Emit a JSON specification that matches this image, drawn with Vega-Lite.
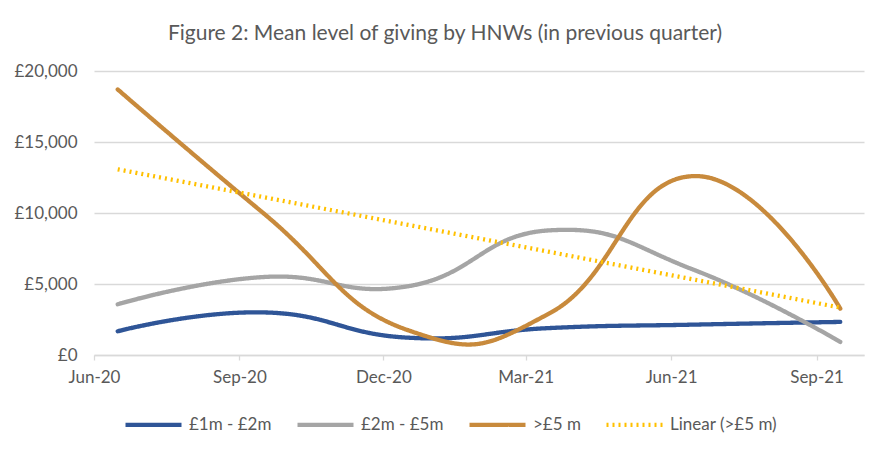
{
  "$schema": "https://vega.github.io/schema/vega-lite/v6.json",
  "width": 770,
  "height": 284,
  "autosize": {"type": "none"},
  "padding": {"left": 94, "top": 71, "right": 25, "bottom": 97},
  "background": "#ffffff",
  "config": {"view": {"stroke": null}, "font": "Lato"},
  "title": {
    "text": "Figure 2: Mean level of giving by HNWs (in previous quarter)",
    "font": "Lato",
    "fontSize": 21,
    "fontWeight": "normal",
    "color": "#595959",
    "anchor": "middle",
    "frame": "group",
    "dx": -34,
    "offset": 18
  },
  "data": {
    "values": [
      {"month": "2020-06-01", "series": "£1m - £2m", "value": 1670},
      {"month": "2020-09-01", "series": "£1m - £2m", "value": 3000},
      {"month": "2020-12-01", "series": "£1m - £2m", "value": 1220},
      {"month": "2021-03-01", "series": "£1m - £2m", "value": 1900},
      {"month": "2021-06-01", "series": "£1m - £2m", "value": 2140},
      {"month": "2021-09-01", "series": "£1m - £2m", "value": 2330},
      {"month": "2020-06-01", "series": "£2m - £5m", "value": 3570},
      {"month": "2020-09-01", "series": "£2m - £5m", "value": 5490},
      {"month": "2020-12-01", "series": "£2m - £5m", "value": 4840},
      {"month": "2021-03-01", "series": "£2m - £5m", "value": 8780},
      {"month": "2021-06-01", "series": "£2m - £5m", "value": 5970},
      {"month": "2021-09-01", "series": "£2m - £5m", "value": 920},
      {"month": "2020-06-01", "series": ">£5 m", "value": 18700},
      {"month": "2020-09-01", "series": ">£5 m", "value": 10000},
      {"month": "2020-12-01", "series": ">£5 m", "value": 1750},
      {"month": "2021-03-01", "series": ">£5 m", "value": 2960},
      {"month": "2021-06-01", "series": ">£5 m", "value": 12600},
      {"month": "2021-09-01", "series": ">£5 m", "value": 3270},
      {"month": "2020-06-01", "series": "Linear (>£5 m)", "value": 13080},
      {"month": "2021-09-01", "series": "Linear (>£5 m)", "value": 3340}
    ]
  },
  "encoding": {
    "x": {
      "field": "month",
      "type": "temporal",
      "timeUnit": "utcyearmonth",
      "bandPosition": 0.5,
      "scale": {
        "nice": false,
        "domain": [
          {"year": 2020, "month": 6, "date": 1, "utc": true},
          {"year": 2021, "month": 10, "date": 1, "utc": true}
        ]
      },
      "axis": {
        "values": [
          {"year": 2020, "month": 6, "date": 1, "utc": true},
          {"year": 2020, "month": 9, "date": 1, "utc": true},
          {"year": 2020, "month": 12, "date": 1, "utc": true},
          {"year": 2021, "month": 3, "date": 1, "utc": true},
          {"year": 2021, "month": 6, "date": 1, "utc": true},
          {"year": 2021, "month": 9, "date": 1, "utc": true}
        ],
        "format": "%b-%y",
        "title": null,
        "grid": false,
        "domainColor": "#D9D9D9",
        "domainWidth": 1.3,
        "tickColor": "#D9D9D9",
        "tickWidth": 1.3,
        "tickSize": 5,
        "labelFont": "Lato",
        "labelFontSize": 17,
        "labelColor": "#595959",
        "labelPadding": 9,
        "labelFlush": false
      }
    },
    "y": {
      "field": "value",
      "type": "quantitative",
      "scale": {"domain": [0, 20000], "nice": false},
      "axis": {
        "values": [0, 5000, 10000, 15000, 20000],
        "labelExpr": "'£' + format(datum.value, ',')",
        "title": null,
        "domain": false,
        "ticks": false,
        "gridColor": "#D9D9D9",
        "gridWidth": 1.3,
        "labelFont": "Lato",
        "labelFontSize": 17,
        "labelColor": "#595959",
        "labelPadding": 17
      }
    },
    "color": {
      "field": "series",
      "type": "nominal",
      "scale": {
        "domain": ["£1m - £2m", "£2m - £5m", ">£5 m", "Linear (>£5 m)"],
        "range": ["#2F5597", "#A5A5A5", "#C88A3C", "#FFC000"]
      },
      "legend": {
        "orient": "none",
        "legendX": 29,
        "legendY": 323,
        "direction": "horizontal",
        "title": null,
        "symbolType": "stroke",
        "symbolSize": 3136,
        "labelFont": "Lato",
        "labelFontSize": 17,
        "labelColor": "#595959",
        "labelOffset": 5,
        "columnPadding": 16
      }
    },
    "strokeDash": {
      "field": "series",
      "type": "nominal",
      "scale": {
        "domain": ["£1m - £2m", "£2m - £5m", ">£5 m", "Linear (>£5 m)"],
        "range": [[1, 0], [1, 0], [1, 0], [2, 4]]
      }
    },
    "strokeWidth": {
      "field": "series",
      "type": "nominal",
      "scale": {
        "domain": ["£1m - £2m", "£2m - £5m", ">£5 m", "Linear (>£5 m)"],
        "range": [4.3, 4.3, 4.3, 2]
      }
    }
  },
  "layer": [
    {
      "transform": [{"filter": {"field": "series", "oneOf": ["£1m - £2m", "£2m - £5m"]}}],
      "mark": {"type": "line", "interpolate": "cardinal", "tension": -0.4, "strokeCap": "round"}
    },
    {
      "transform": [{"filter": {"field": "series", "equal": ">£5 m"}}],
      "mark": {"type": "line", "interpolate": "cardinal", "tension": -0.4, "strokeCap": "round"}
    },
    {
      "transform": [{"filter": {"field": "series", "equal": "Linear (>£5 m)"}}],
      "mark": {"type": "line", "interpolate": "linear"}
    }
  ]
}
